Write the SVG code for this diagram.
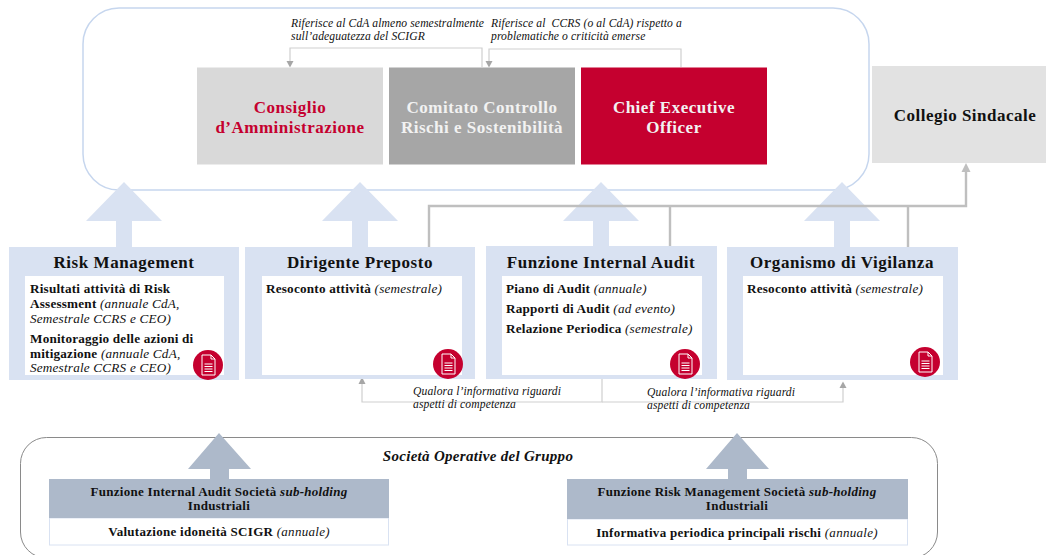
<svg xmlns="http://www.w3.org/2000/svg" width="1046" height="555" viewBox="0 0 1046 555">
<style>
text{font-family:"Liberation Serif","Times New Roman",serif;fill:#111}
.mid{text-anchor:middle}
.head{font-size:17px;font-weight:bold;letter-spacing:.55px}
.top{font-size:17px;font-weight:bold;letter-spacing:.5px}
.body{font-size:13.2px;letter-spacing:.2px}
.note{font-size:11.6px;font-style:italic;letter-spacing:.12px}
.sub{font-size:13px;letter-spacing:.28px}
.b{font-weight:bold}
.i{font-style:italic}
.panel{fill:#d9e2f2}
.inner{fill:#fff}
.big{fill:#d9e2f2}
.dark{fill:#adb9ca}
.thin{fill:none;stroke:#cfcfcf;stroke-width:1.2}
.thick{fill:none;stroke:#bfbfbf;stroke-width:2.4}
.tip{fill:#a6a6a6}
.ic{fill:#c5002f}
.doc{fill:none;stroke:#fff;stroke-width:1}
</style>
<defs>
<g id="icon">
<circle class="ic" r="15"/>
<path class="doc" d="M-6-10H3L7-6V10H-6Z"/>
<path class="doc" d="M3-10V-6H7M-3.500-1H4.500M-3.500 1.500H4.500M-3.500 4H4.500M-3.500 6.500H4.500"/>
</g>
</defs>
<g id="container-top"><rect x="83" y="8" width="786" height="182" rx="36" fill="#fff" stroke="#c6d6ee" stroke-width="1.500"/></g>
<g id="container-bottom"><rect x="20.500" y="437.500" width="917" height="120.500" rx="26" fill="#fff" stroke="#8a8a8a" stroke-width="1"/></g>
<g id="connectors">
<path class="thin" d="M482 67V48H290V61"/><path class="tip" d="M286.500 61H293.500L290 67.500Z"/>
<path class="thin" d="M681 67V49H489V61"/><path class="tip" d="M485.500 61H492.500L489 67.500Z"/>
<path class="thin" d="M602 376V402H362V384"/><path class="tip" d="M358.500 384H365.500L362 377Z"/>
<path class="thin" d="M602 402H843V388"/><path class="tip" d="M839.500 388H846.500L843 381.500Z"/>
</g>
<g id="arrows-up">
<path class="big" d="M124 182L162 221H132V247H116V221H86Z"/>
<path class="big" d="M360 182L398 221H368V247H352V221H322Z"/>
<path class="big" d="M601 182L639 221H609V247H593V221H563Z"/>
<path class="big" d="M842 182L880 221H850V247H834V221H804Z"/>
</g>
<g id="connector-collegio">
<path class="thick" d="M429 247V206H966V171M670 206V247M908 206V247"/><path d="M961.500 172H970.500L966 163Z" fill="#bfbfbf"/>
</g>
<g id="consiglio"><rect x="197" y="67.500" width="186" height="97" fill="#d9d9d9"/>
<text class="top mid" x="290" y="113" style="fill:#c5002f">Consiglio</text><text class="top mid" x="290" y="133" style="fill:#c5002f">d’Amministrazione</text></g>
<g id="comitato"><rect x="389" y="67.500" width="186" height="97" fill="#a6a6a6"/>
<text class="top mid" x="482" y="113" style="fill:#f2f2f2">Comitato Controllo</text><text class="top mid" x="482" y="133" style="fill:#f2f2f2">Rischi e Sostenibilità</text></g>
<g id="ceo"><rect x="581" y="67.500" width="186" height="97" fill="#c5002f"/>
<text class="top mid" x="674" y="113" style="fill:#f2f2f2">Chief Executive</text><text class="top mid" x="674" y="133" style="fill:#f2f2f2">Officer</text></g>
<g id="collegio"><rect x="872" y="66" width="174" height="97" fill="#e2e2e2"/>
<text class="top mid" x="965" y="121">Collegio Sindacale</text></g>
<g id="note-top">
<text class="note" x="291" y="27">Riferisce al CdA almeno semestralmente</text><text class="note" x="291" y="40">sull’adeguatezza del SCIGR</text>
<text class="note" x="491" y="27" xml:space="preserve">Riferisce al  CCRS (o al CdA) rispetto a</text><text class="note" x="491" y="40">problematiche o criticità emerse</text>
</g>
<g id="risk-management"><rect class="panel" x="9" y="247" width="230" height="133"/><rect class="inner" x="25" y="276" width="199" height="99"/>
<text class="head mid" x="124" y="268">Risk Management</text>
<text class="body" x="30" y="293"><tspan class="b">Risultati attività di Risk</tspan></text>
<text class="body" x="30" y="307.500"><tspan class="b">Assessment </tspan><tspan class="i">(annuale CdA,</tspan></text>
<text class="body i" x="30" y="323">Semestrale CCRS e CEO)</text>
<text class="body b" x="30" y="343">Monitoraggio delle azioni di</text>
<text class="body" x="30" y="357.500"><tspan class="b">mitigazione </tspan><tspan class="i">(annuale CdA,</tspan></text>
<text class="body i" x="30" y="372">Semestrale CCRS e CEO)</text>
<use href="#icon" x="208" y="365"/></g>
<g id="dirigente-preposto"><rect class="panel" x="245" y="247" width="230" height="132"/><rect class="inner" x="262" y="276" width="200" height="99"/>
<text class="head mid" x="360" y="268">Dirigente Preposto</text>
<text class="body" x="266" y="293"><tspan class="b">Resoconto attività </tspan><tspan class="i">(semestrale)</tspan></text>
<use href="#icon" x="448" y="364"/></g>
<g id="funzione-internal-audit"><rect class="panel" x="486" y="246" width="231" height="133"/><rect class="inner" x="502" y="276" width="200" height="99"/>
<text class="head mid" x="601" y="268">Funzione Internal Audit</text>
<text class="body" x="506" y="293"><tspan class="b">Piano di Audit </tspan><tspan class="i">(annuale)</tspan></text>
<text class="body" x="506" y="313"><tspan class="b">Rapporti di Audit </tspan><tspan class="i">(ad evento)</tspan></text>
<text class="body" x="506" y="333"><tspan class="b">Relazione Periodica </tspan><tspan class="i">(semestrale)</tspan></text>
<use href="#icon" x="685" y="364"/></g>
<g id="organismo-vigilanza"><rect class="panel" x="727" y="247" width="231" height="133"/><rect class="inner" x="743" y="276" width="200" height="99"/>
<text class="head mid" x="842" y="268">Organismo di Vigilanza</text>
<text class="body" x="747" y="293"><tspan class="b">Resoconto attività </tspan><tspan class="i">(semestrale)</tspan></text>
<use href="#icon" x="925" y="362"/></g>
<g id="note-low">
<text class="note" x="413" y="395">Qualora l’informativa riguardi</text><text class="note" x="413" y="408">aspetti di competenza</text>
<text class="note" x="647" y="396">Qualora l’informativa riguardi</text><text class="note" x="647" y="409">aspetti di competenza</text>
</g>
<g id="societa"><text class="mid i" x="478" y="461" style="font-size:15px;font-weight:bold;letter-spacing:.3px">Società Operative del Gruppo</text></g>
<g id="internal-audit-sub">
<path class="dark" d="M219 433L251 469H229V479H210V469H188Z"/>
<rect x="49.500" y="518" width="339" height="27" fill="#fff" stroke="#d9e2f2"/><rect class="dark" x="49" y="479" width="340" height="39"/>
<text class="sub mid" x="219" y="496"><tspan class="b">Funzione Internal Audit Società </tspan><tspan class="b i">sub-holding</tspan></text>
<text class="sub mid b" x="219" y="510">Industriali</text>
<text class="sub mid" x="219" y="536"><tspan class="b">Valutazione idoneità SCIGR </tspan><tspan class="i">(annuale)</tspan></text></g>
<g id="risk-management-sub">
<path class="dark" d="M737 433L769 469H747V479H728V469H706Z"/>
<rect x="567.500" y="519" width="340" height="26" fill="#fff" stroke="#d9e2f2"/><rect class="dark" x="567" y="479" width="341" height="40"/>
<text class="sub mid" x="737" y="496"><tspan class="b">Funzione Risk Management Società </tspan><tspan class="b i">sub-holding</tspan></text>
<text class="sub mid b" x="737" y="510">Industriali</text>
<text class="sub mid" x="737" y="537"><tspan class="b">Informativa periodica principali rischi </tspan><tspan class="i">(annuale)</tspan></text></g>
</svg>
